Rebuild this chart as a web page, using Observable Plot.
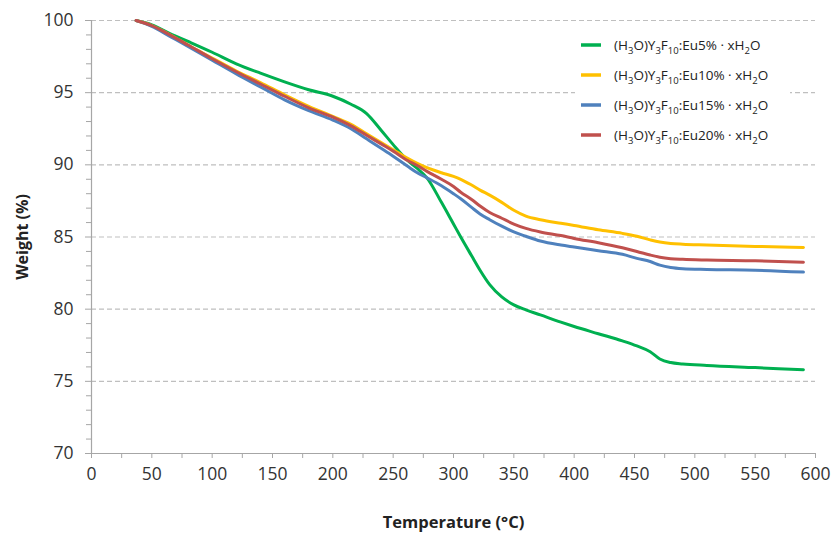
<!DOCTYPE html>
<html><head><meta charset="utf-8">
<script src="https://cdn.jsdelivr.net/npm/d3@7"></script>
<script src="https://cdn.jsdelivr.net/npm/@observablehq/plot@0.6"></script>
<style>body{margin:0;background:#fff}</style>
</head><body><div id="chart"></div>
<script>
const temperatures = [37, 50, 65, 80, 100, 120, 140, 160, 180, 200, 215, 228, 240, 250, 262, 270, 278, 290, 300, 306, 315, 322, 330, 340, 350, 360, 372, 389, 400, 420, 440, 452, 463, 471, 480, 490, 510, 550, 590];
const eu5  = [100, 99.7, 99.1, 98.55, 97.8, 97.0, 96.35, 95.75, 95.2, 94.75, 94.2, 93.55, 92.4, 91.4, 90.3, 89.75, 89.1, 87.4, 85.9, 85.0, 83.7, 82.7, 81.7, 80.85, 80.3, 79.95, 79.6, 79.1, 78.8, 78.3, 77.8, 77.45, 77.05, 76.55, 76.3, 76.2, 76.1, 75.95, 75.8];
const eu10 = [100, 99.65, 99.0, 98.3, 97.4, 96.5, 95.7, 94.85, 94.05, 93.35, 92.8, 92.15, 91.55, 91.05, 90.45, 90.1, 89.8, 89.45, 89.2, 89.0, 88.6, 88.25, 87.9, 87.4, 86.85, 86.45, 86.2, 85.95, 85.8, 85.5, 85.25, 85.05, 84.8, 84.65, 84.55, 84.5, 84.45, 84.35, 84.28];
const eu15 = [100, 99.6, 98.9, 98.2, 97.25, 96.3, 95.4, 94.5, 93.75, 93.1, 92.5, 91.8, 91.15, 90.6, 89.9, 89.45, 89.1, 88.55, 88.0, 87.65, 87.05, 86.6, 86.2, 85.75, 85.35, 85.05, 84.72, 84.44, 84.3, 84.05, 83.8, 83.52, 83.3, 83.05, 82.88, 82.8, 82.75, 82.7, 82.57];
const eu20 = [100, 99.65, 99.0, 98.3, 97.35, 96.45, 95.6, 94.75, 93.95, 93.3, 92.7, 92.05, 91.45, 90.95, 90.3, 89.95, 89.55, 89.0, 88.5, 88.1, 87.6, 87.15, 86.7, 86.3, 85.9, 85.6, 85.35, 85.1, 84.9, 84.6, 84.25, 84.0, 83.75, 83.6, 83.5, 83.45, 83.4, 83.35, 83.25];
const seriesDoping = ["Eu5%", "Eu10%", "Eu15%", "Eu20%"];
const seriesColors = ["#00b050", "#ffc000", "#4f81bd", "#c0504d"];
const xTickValues = [0, 50, 100, 150, 200, 250, 300, 350, 400, 450, 500, 550, 600];
const xMinorTicks = [25, 75, 125, 175, 225, 275, 325, 375, 425, 475, 525, 575];
const yTickValues = [70, 75, 80, 85, 90, 95, 100];
const yMinorTicks = [71,72,73,74,76,77,78,79,81,82,83,84,86,87,88,89,91,92,93,94,96,97,98,99];
const gridValues = [75, 80, 85, 90, 95, 100];

const seriesValues = [eu5, eu10, eu15, eu20];
const rows = seriesValues.flatMap((vals, s) => temperatures.map((t, i) => ({T: t, W: vals[i], series: seriesDoping[s]})));

const axisColor = "#a6a6a6";
const textColor = "#333";

const plot = Plot.plot({
  width: 835, height: 533,
  marginLeft: 91, marginRight: 20, marginTop: 20, marginBottom: 80,
  style: {fontFamily: "'Open Sans', sans-serif", fontSize: "17.5px", background: "#fff", overflow: "visible"},
  x: {domain: [0, 600]},
  y: {domain: [70, 100]},
  color: {domain: seriesDoping, range: seriesColors},
  marks: [
    Plot.ruleY(gridValues, {stroke: "#bfbfbf", strokeWidth: 1.2, strokeDasharray: "5,3"}),
    Plot.ruleX([0], {y1: 70, y2: 100, stroke: axisColor, strokeWidth: 1.2}),
    Plot.ruleY([70], {x1: 0, x2: 600, stroke: axisColor, strokeWidth: 1.2}),
    Plot.axisY(yTickValues, {tickSize: 6, tickPadding: 12, stroke: axisColor, fill: textColor, label: null}),
    Plot.axisY(yMinorTicks, {tickSize: 5, tickFormat: () => "", stroke: axisColor, label: null}),
    Plot.axisX(xTickValues, {tickSize: 5, tickPadding: 9, stroke: axisColor, fill: textColor, label: null}),
    Plot.axisX(xMinorTicks, {tickSize: 5, tickFormat: () => "", stroke: axisColor, label: null}),
    Plot.line(rows, {x: "T", y: "W", z: "series", stroke: "series", strokeWidth: 3, curve: "monotone-x"}),
    Plot.text(["Weight (%)"], {frameAnchor: "left", textAnchor: "middle", lineAnchor: "middle", rotate: -90, dx: -69, fontWeight: "bold", fontSize: 16, fill: "#222"}),
    Plot.text(["Temperature (°C)"], {frameAnchor: "bottom", textAnchor: "middle", lineAnchor: "middle", dy: 69, fontWeight: "bold", fontSize: 16.5, fill: "#222"})
  ]
});

// Legend
const svg = d3.select(plot);
const lg = svg.append("g").attr("font-family", "'Open Sans', sans-serif").attr("text-anchor", "start");
lg.append("rect").attr("x", 575).attr("y", 26).attr("width", 215).attr("height", 128).attr("fill", "#fff");
seriesDoping.forEach((d, i) => {
  const y = 45 + i * 30;
  lg.append("line").attr("x1", 581).attr("x2", 601).attr("y1", y).attr("y2", y)
    .attr("stroke", seriesColors[i]).attr("stroke-width", 3.5);
  const t = lg.append("text").attr("x", 614).attr("y", y + 5).attr("font-size", 13.5)
    .attr("fill", "#222").attr("text-anchor", "start");
  const parts = [["(H"], ["3", 1], ["O)Y"], ["3", 1], ["F"], ["10", 1], [":" + d + " · xH"], ["2", 1], ["O"]];
  parts.forEach(([s, sub], k) => {
    const ts = t.append("tspan").text(s);
    if (sub) ts.attr("font-size", 9.5).attr("dy", 3.5);
    else if (k > 0 && parts[k - 1][1]) ts.attr("dy", -3.5);
  });
});

document.getElementById("chart").append(plot);
</script>
</body></html>
